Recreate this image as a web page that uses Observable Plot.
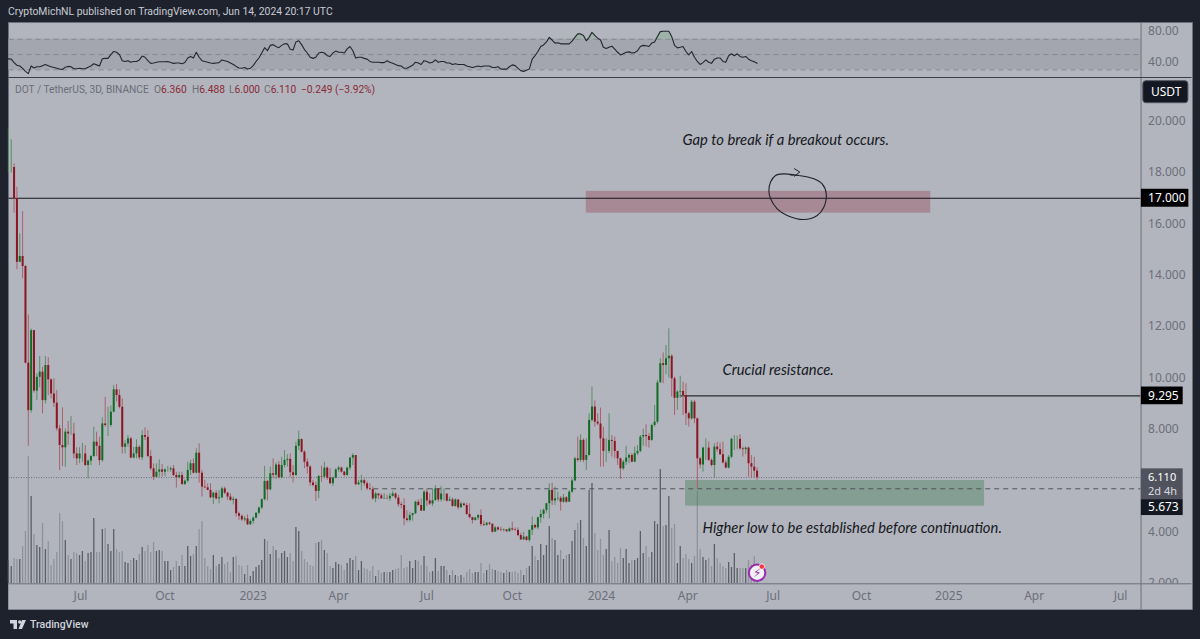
<!DOCTYPE html>
<html><head><meta charset="utf-8">
<script src="https://cdn.jsdelivr.net/npm/d3@7"></script>
<script src="https://cdn.jsdelivr.net/npm/@observablehq/plot@0.6"></script>
<style>
html,body{margin:0;padding:0;background:#1e222d;width:1200px;height:639px;overflow:hidden}
#root{position:relative;width:1200px;height:639px;overflow:hidden}
#panel{position:absolute;left:8px;top:22px;width:1183px;height:586px;background:#b2b5be;border:1px solid #6d707b}
#pub{position:absolute;left:8px;top:5px;font:10.4px Roboto,sans-serif;line-height:14px;color:#c8cbd3;white-space:pre}
#leg{position:absolute;left:15px;top:83px;font:10.2px Roboto,sans-serif;line-height:14px;color:#6a6d78;white-space:pre}
#leg span{position:absolute;top:0}
#leg b{font-weight:400;color:#8b2a35}
#logo{position:absolute;left:10px;top:618px;display:flex;align-items:center;gap:4px;font:500 10.5px Roboto,sans-serif;color:#d1d4dc}
svg{position:absolute;left:0;top:0}
</style></head><body><div id="root">
<div id="panel"></div>
<div id="pub">CryptoMichNL published on TradingView.com, Jun 14, 2024 20:17 UTC</div>
<div id="logo"><svg style="position:static" width="16" height="10" viewBox="0 0 16 10"><path d="M0 0h7v9H3.5V3.5H0z M12 9H8.5L12 0h4z" fill="#d1d4dc"/><circle cx="9.7" cy="2" r="1.7" fill="#d1d4dc"/></svg><span>TradingView</span></div>
</div>
<script>
// --- values ---
const closes=[18.2,18.2,16.98,14.5,14.73,14.34,10.57,8.72,11.84,9.48,10.02,10.22,9.11,10.48,9.92,9.37,9.01,8.01,7.36,7.27,7.88,7.81,7.81,7.03,6.84,7.03,7.03,6.58,6.75,6.93,7.49,7.33,6.77,8.2,8.14,8.14,8.66,9.53,9.31,8.85,7.29,7.42,7.62,6.87,7.03,7.29,6.88,7.75,7.68,6.93,6.45,6.12,6.32,6.41,
6.32,6.41,6.41,6.45,6.19,6.1,6.19,5.84,5.97,6.39,6.65,6.28,7.06,6.28,5.74,5.71,5.61,5.32,5.5,5.28,5.32,5.67,5.5,5.35,
5.22,5.26,4.7,4.6,4.46,4.5,4.27,4.4,4.53,4.72,4.92,5.25,5.96,5.63,6.26,6.2,6.6,6.1,6.58,6.78,6.82,6.3,6.19,7.33,7.59,7.1,6.71,6.52,5.9,5.8,5.57,6.15,6.13,6.48,6.09,5.87,6.09,6.41,6.48,6.32,6.19,6.48,6.87,6.97,5.83,5.9,5.99,5.87,5.67,5.64,5.28,5.47,5.4,5.28,5.29,5.28,5.38,5.47,5.31,5.05,5.02,
4.5,4.44,4.63,4.7,5.15,5.02,4.8,5.54,5.2,5.08,5.21,5.67,5.24,5.47,5.47,5.19,5.24,4.98,5.24,4.93,5.08,5.02,4.67,4.55,4.44,4.53,4.63,4.28,4.25,4.33,4.29,3.98,4.15,4.07,4.05,4.07,4.0,4.11,4.07,4.05,3.85,3.68,3.79,3.66,4.05,4.24,4.15,4.54,4.67,4.83,5.09,5.61,5.2,5.28,5.3,5.15,5.32,5.15,5.54,5.98,
6.84,6.78,7.56,6.78,6.97,8.34,8.86,8.27,8.2,7.62,7.13,7.13,7.56,7.52,7.13,6.84,6.45,6.71,6.87,6.97,6.71,7.04,7.13,7.69,7.75,7.71,7.56,8.14,8.27,9.8,10.55,10.48,10.74,10.84,9.96,9.2,9.44,9.47,9.31,8.6,8.4,9.05,8.4,6.84,6.6,7.26,7.26,6.78,6.58,7.3,7.2,7.0,6.68,6.48,6.9,7.6,7.6,7.6,7.23,7.2,7.26,6.65,6.52,6.36,6.11];
const highs=[19.7,19.28,18.34,17.43,15.61,16.48,14.38,12.45,11.9,11.84,10.15,10.83,10.41,10.83,10.78,9.96,9.96,9.5,8.14,8.83,8.01,8.3,8.49,8.23,7.27,7.27,7.45,7.36,6.8,6.97,8.07,7.88,7.68,8.44,9.24,8.85,8.9,9.7,9.74,9.53,9.18,7.55,7.75,7.68,7.29,7.58,7.36,7.94,8.05,7.94,7.16,6.64,6.64,6.8,
6.62,6.45,6.54,6.52,6.58,6.32,6.32,6.32,6.02,6.71,6.78,6.84,7.23,7.43,6.39,6.0,5.87,5.87,5.54,5.6,5.6,5.74,5.74,5.54,
5.48,5.35,5.28,4.76,4.65,4.6,4.66,4.46,4.57,4.74,4.96,5.28,6.55,6.0,6.52,6.84,6.68,6.74,6.9,7.16,7.0,7.03,6.58,7.49,7.92,7.62,7.16,6.84,6.58,6.0,5.93,6.19,6.55,6.71,6.52,6.45,6.13,6.45,6.55,6.52,6.35,6.52,6.9,7.04,6.95,6.0,6.2,6.06,5.95,5.87,5.74,5.54,5.48,5.48,5.48,5.42,5.48,5.57,5.51,5.41,5.15,
5.28,4.82,4.76,4.72,5.19,5.24,5.28,5.6,5.67,5.48,5.67,5.8,5.58,5.76,5.67,5.45,5.35,5.32,5.28,5.11,5.15,5.11,5.11,5.08,4.56,4.56,4.67,4.85,4.41,4.37,4.37,4.3,4.2,4.2,4.17,4.11,4.07,4.15,4.37,4.15,4.15,3.94,3.98,3.81,4.07,4.57,4.28,4.57,4.85,4.89,5.11,5.87,5.89,5.74,5.54,5.37,5.45,5.37,5.6,6.06,
6.9,7.69,7.78,7.62,7.62,8.6,9.64,9.1,8.6,8.82,8.08,7.62,8.6,7.75,7.69,7.13,6.87,6.78,7.33,7.04,7.04,7.3,7.36,7.75,7.99,8.17,7.82,8.2,8.92,9.9,10.74,10.97,11.26,11.91,10.9,10.03,9.5,10.06,9.83,9.77,8.66,9.12,9.12,8.43,6.9,7.3,7.62,7.49,6.84,7.43,7.49,7.46,7.49,6.78,6.97,7.65,7.75,7.73,7.78,7.3,7.3,7.3,6.97,6.9,6.488];
const lows=[18.0,17.98,16.42,14.21,14.5,13.86,10.54,7.33,8.62,9.4,9.11,9.61,8.59,8.98,9.31,9.18,8.85,7.92,6.38,6.54,6.51,7.36,7.75,6.84,6.58,6.65,6.71,6.54,6.06,6.58,6.9,6.93,6.58,6.71,8.07,7.71,8.07,8.63,9.05,8.79,7.03,7.03,7.29,6.84,6.84,6.84,6.8,6.77,7.55,6.88,6.38,6.0,6.12,6.12,
6.13,6.15,6.32,6.32,6.15,5.7,6.06,5.8,5.8,5.9,6.19,6.25,6.26,5.89,5.35,5.67,5.6,5.28,5.06,5.24,5.09,5.28,5.45,5.22,
5.18,5.05,4.57,4.44,4.4,4.38,4.24,4.24,4.3,4.5,4.66,4.86,5.2,5.2,5.6,6.06,6.03,6.06,6.06,6.48,6.52,6.12,5.9,6.16,7.16,7.07,6.45,6.25,5.77,5.74,5.18,5.28,5.93,6.06,6.0,5.83,5.77,6.06,6.32,6.28,6.13,6.16,6.39,6.58,5.8,5.8,5.6,5.77,5.6,5.6,5.22,5.13,5.25,5.25,5.25,5.25,5.18,5.35,5.25,4.96,4.89,
4.24,4.37,4.37,4.41,4.67,4.98,4.8,4.98,4.98,5.02,4.98,5.19,5.15,5.15,5.2,5.15,5.19,4.96,4.96,4.85,4.93,4.98,4.63,4.5,4.3,4.41,4.44,4.2,4.2,4.2,4.24,3.94,3.98,4.02,4.0,3.98,3.98,3.98,4.02,4.02,3.81,3.66,3.66,3.63,3.59,3.85,4.11,4.07,4.33,4.5,4.72,4.5,5.02,5.02,5.19,4.8,5.11,5.11,5.15,5.5,
5.95,6.71,6.71,6.69,6.39,6.95,8.27,8.08,8.14,6.52,6.52,6.71,7.04,6.91,6.84,6.58,6.04,6.39,6.58,6.65,6.69,6.69,6.97,7.08,7.33,7.3,7.26,7.52,8.08,8.2,9.96,9.77,10.12,9.99,9.25,8.53,8.73,9.2,8.53,8.14,8.08,8.34,8.21,5.67,6.45,6.32,6.78,6.74,6.52,6.09,7.1,6.97,6.65,6.45,6.45,6.84,7.17,7.2,7.17,6.91,7.0,6.13,6.09,6.09,6.0];
const volumes=[23,17,25,24,24,37,52,127,87,49,38,36,60,34,42,18,24,31,70,62,43,28,24,31,30,28,32,22,30,31,65,31,31,54,55,39,32,54,34,31,32,21,20,23,25,23,29,36,32,38,31,41,32,33,32,22,22,13,16,22,17,28,17,37,27,29,37,54,62,25,17,14,28,17,19,26,19,21,
11,26,27,18,17,9,18,7,12,16,18,23,44,42,29,37,33,25,30,32,26,30,22,56,52,32,24,21,18,17,40,41,43,33,30,17,15,21,19,18,13,20,25,23,27,13,22,15,14,12,17,7,13,10,11,11,11,13,14,15,28,15,16,22,15,23,22,18,27,17,11,12,25,12,17,17,13,8,13,8,7,8,6,11,14,10,11,11,20,10,13,19,14,13,12,11,10,13,11,11,12,10,13,8,15,17,
37,27,23,39,28,38,57,45,43,28,33,24,28,29,42,53,60,63,45,37,93,100,50,33,44,28,34,53,22,26,20,35,25,34,20,23,23,25,52,30,37,26,31,62,59,114,57,58,87,55,59,20,37,25,29,24,20,27,92,34,26,23,25,17,39,25,20,17,15,21,16,30,15,15,15,15,23,18,27,10];
const rsiValues=[44.3,44,39.5,36,35,32,28,25,35,32.5,34,34,35.5,37,35.5,34,33,32,31,30.5,33.5,34.5,34,31.5,31.5,32,31.5,31.5,33.5,35,38,36.5,35,44.5,45,45,50,54,53,50,42,41,42,40,41,41,43,48,46.5,42,38.5,39,40,40.5,40.5,40.5,41,39.5,38.5,39,39,38,39.5,45.5,47.5,45.5,53,46.5,42,41,40,39,38.5,39,39.5,43,42,41,39,37,34.5,32.5,32,33,31,32,35.5,41,45.5,52,59,55,62,63,60.5,59,62,64,64,57,56,66.5,68,63,56.5,52,46.5,45,46.5,52,53,52,48.5,47.5,52,54.5,53,53,52,57.5,60.5,55,45.5,46.5,46.5,45,44,41,40,40,40,39.5,39.5,42,40,38.5,37,35.5,
35,32,32,34,36,40,39,37,42,41,39,40,43,40,41,41,39,39,37,38,37,37,37,35,34,33,34,35,34,35,35,35,33,33,34,
31,31,31,34,36.5,35.5,32,29,28,29.5,31,44,48.5,54,60.5,62.5,66.5,72.5,69,65,65.5,64,64,64,64,67.5,72.5,77,77,75,68,72.5,79,75,71.5,69,59.5,58,59.5,61,57,53,49.5,51,53,53.5,52,52.5,55,60.5,62,61.5,60.5,65,66.5,73.5,80,80.5,80.5,80.5,73.5,62,58.7,59.5,60.5,54,49.5,54,46.5,41,37,39.5,43,40,38.5,44,45.5,45.5,41,40,48.5,51,48.5,51,47.5,46.5,47.5,44,42,40.5,38.5];
const firstOpen=18.2;
const priceTicks=[20,18,16,14,12,10,8,4,2];
const rsiTicks=[80,40];
const xTickLabels=["Jul","Oct","2023","Apr","Jul","Oct","2024","Apr","Jul","Oct","2025","Apr","Jul"];
const xTickDates=["2022-07-01","2022-09-28","2022-12-30","2023-03-30","2023-07-01","2023-09-29","2024-01-01","2024-04-01","2024-06-30","2024-10-01","2025-01-01","2025-04-01","2025-07-01"];
const firstCandle="2022-04-16";
const circleDays=[757,741.2,732.4,727.2,725.4,727.2,734.2,744.7,762.3,776.3,783.3,785.9,781.6,772.8,757,748.2];
const circlePrices=[17.89,17.95,17.89,17.63,17.3,16.98,16.59,16.33,16.17,16.33,16.65,17.17,17.56,17.76,17.89,17.91];
const arrowDays=[752.4,758,752.4];
const arrowPrices=[18.15,18.02,17.86];

// --- helpers ---
const origin=Date.UTC(2022,6,1);
const day=n=>new Date(origin+n*864e5);
const start=new Date(firstCandle+"T00:00:00Z");
const candles=closes.map((c,i)=>({
  date:new Date(+start+i*3*864e5),
  open:i?closes[i-1]:firstOpen, close:c, high:highs[i], low:lows[i], vol:volumes[i], rsi:rsiValues[i]
}));
candles.forEach(d=>d.up=d.close>=d.open);
const xScale={type:"utc",domain:[day(-75.35),day(1171.3)],range:[8.5,1191.5],axis:null};
const base={width:1200,height:639,marginLeft:0,marginRight:0,marginTop:0,marginBottom:0,
  style:{background:"transparent",position:"absolute",left:0,top:0,overflow:"visible"}};
const sepDay=day(1117.6), axisTextDay=day(1125);
const AF="Noto Sans, sans-serif", AC="#6c6f7a", NF="Lato, sans-serif";
const pY=y=>2+(582.5-y)/25.65; // price read at a picture height, for annotations

// --- volume layer ---
const volPlot=Plot.plot({...base,x:xScale,y:{domain:[127,0],range:[456,583],axis:null},marks:[
  Plot.ruleX(candles,{filter:d=>!d.up,x:"date",y1:0,y2:"vol",stroke:"#8f929b",strokeWidth:1.3}),
  Plot.ruleX(candles,{filter:d=>d.up,x:"date",y1:0,y2:"vol",stroke:"#5b5e66",strokeWidth:1.3})
]});

// --- RSI layer ---
const rsiPlot=Plot.plot({...base,x:xScale,y:{domain:[90.6,20],range:[23,77],axis:null},marks:[
  Plot.rect([0],{x1:day(-75.35),x2:sepDay,y1:30,y2:70,fill:"#a3a6af"}),
  Plot.ruleY([30,50,70],{x1:day(-75.35),x2:sepDay,stroke:"#85888f",strokeDasharray:"5,4",strokeWidth:1}),
  Plot.areaY(candles,{x:"date",y1:70,y2:d=>Math.max(d.rsi,70),fill:"#7fb08a",fillOpacity:.4}),
  Plot.line(candles,{x:"date",y:"rsi",stroke:"#23262e",strokeWidth:1.1}),
  Plot.ruleX([sepDay],{y1:90.6,y2:20,stroke:"#6d707b"}),
  Plot.ruleY([20],{x1:day(-75.35),x2:day(1171.3),stroke:"#3c3f48",strokeWidth:1.2}),
  Plot.text(rsiTicks,{x:axisTextDay,y:d=>d,text:d=>d3.format(".2f")(d),textAnchor:"start",fill:AC,fontFamily:AF,fontSize:12})
]});

// --- main layer ---
const pT=pY(78), pB=pY(609.3), pAxis=pY(583.3);
const txt=(label,dd,p)=>Plot.text([label],{x:day(dd),y:p,text:d=>d,textAnchor:"start",fill:"#16181d",fontFamily:NF,fontStyle:"italic",fontSize:14.8});
const tag=(p1,p2,fill,right=1162)=>Plot.rect([0],{x1:day(1118),x2:day(right),y1:p1,y2:p2,fill});
const tagText=(label,p,fill="#fff",size=12)=>Plot.text([label],{x:axisTextDay,y:p,text:d=>d,textAnchor:"start",fill,fontFamily:AF,fontSize:size});
const circle=circleDays.map((d,i)=>({d:day(d),p:circlePrices[i]}));
const arrow=arrowDays.map((d,i)=>({d:day(d),p:arrowPrices[i]}));
const mainPlot=Plot.plot({...base,x:xScale,y:{domain:[pT,pB],range:[78,609.3],axis:null},marks:[
  Plot.rect([0],{x1:day(533),x2:day(896),y1:16.42,y2:17.27,fill:"#8b1a2b",fillOpacity:.28}),
  Plot.rect([0],{x1:day(637.6),x2:day(952.7),y1:4.995,y2:5.996,fill:"#3f7d52",fillOpacity:.4}),
  Plot.ruleY([17],{x1:day(-75.35),x2:sepDay,stroke:"#15171c",strokeWidth:1.1}),
  Plot.ruleY([9.295],{x1:day(632),x2:sepDay,stroke:"#2a2c33",strokeWidth:1.2}),
  Plot.ruleY([6.11],{x1:day(-75.35),x2:sepDay,stroke:"#6b6e76",strokeWidth:1,strokeDasharray:"1,1.5"}),
  Plot.ruleY([5.673],{x1:day(309),x2:sepDay,stroke:"#50535b",strokeWidth:1,strokeDasharray:"5,4"}),
  Plot.ruleX(candles,{filter:d=>!d.up,x:"date",y1:"low",y2:"high",stroke:"#a8626d",strokeWidth:1}),
  Plot.ruleX(candles,{filter:d=>d.up,x:"date",y1:"low",y2:"high",stroke:"#5b8d66",strokeWidth:1}),
  Plot.ruleX(candles,{filter:d=>!d.up,x:"date",y1:"open",y2:"close",stroke:"#8c1522",strokeWidth:2}),
  Plot.ruleX(candles,{filter:d=>d.up,x:"date",y1:"open",y2:"close",stroke:"#106b25",strokeWidth:2}),
  Plot.line(circle,{x:"d",y:"p",curve:"catmull-rom",stroke:"#20222a",strokeWidth:1.1}),
  Plot.line(arrow,{x:"d",y:"p",stroke:"#20222a",strokeWidth:1}),
  txt("Gap to break if a breakout occurs.",634.4,pY(140)),
  txt("Crucial resistance.",676.6,pY(369.5)),
  txt("Higher low to be established before continuation.",655.5,pY(528)),
  // axis strips
  Plot.text(priceTicks,{x:axisTextDay,y:d=>d,text:d=>d3.format(".3f")(d),textAnchor:"start",fill:AC,fontFamily:AF,fontSize:12}),
  Plot.rect([0],{x1:day(-75.35),x2:day(1171.3),y1:pAxis,y2:pB,fill:"#b2b5be"}),
  Plot.ruleY([pAxis],{x1:day(-75.35),x2:day(1171.3),stroke:"#6d707b"}),
  Plot.ruleX([sepDay],{y1:pT,y2:pB,stroke:"#6d707b"}),
  Plot.text(xTickLabels.map((t,i)=>({t,d:new Date(xTickDates[i]+"T00:00:00Z")})),{x:"d",y:pY(596),text:"t",
    fill:AC,fontFamily:AF,fontSize:12,fontWeight:d=>/^\d/.test(d.t)?"700":"400"}),
  // tags
  Plot.rect([0],{x1:day(1120),x2:day(1167.5),y1:pY(80.7),y2:pY(102.7),fill:"#131722",rx:3,stroke:"#50535e"}),
  Plot.text(["USDT"],{x:day(1144),y:pY(92),text:d=>d,fill:"#fff",fontFamily:AF,fontSize:12}),
  tag(17.35,16.65,"#000",1168), tagText("17.000",17),
  tag(9.64,8.95,"#000"), tagText("9.295",9.295),
  tag(6.45,5.25,"#50535e"), tagText("6.110",pY(476.5),"#fff",11), tagText("2d 4h",pY(490.5),"#d8dae0",11),
  tag(5.25,4.63,"#131722"), tagText("5.673",4.94),
  // badge
  Plot.dot([0],{x:day(713),y:2.4,r:8.2,fill:"#f2f2f6",stroke:"#9c27b0",strokeWidth:2}),
  Plot.text(["⚡"],{x:day(713),y:2.4,text:d=>d,fill:"#9c27b0",fontFamily:"DejaVu Sans",fontSize:12}),
  Plot.dot([0],{x:day(718),y:2.64,r:2.7,fill:"#f23645",stroke:"#fff",strokeWidth:.7})
]});

const root=document.getElementById("root");
root.appendChild(volPlot);
root.appendChild(rsiPlot);
root.appendChild(mainPlot);
const leg=document.createElement("div");
leg.id="leg";
const legendParts=[["DOT / TetherUS, 3D, BINANCE",0],["O<b>6.360</b>",139],["H<b>6.488</b>",177],["L<b>6.000</b>",214],["C<b>6.110</b>",249],["<b>−0.249 (−3.92%)</b>",286]];
leg.innerHTML=legendParts.map(([t,l])=>`<span style="left:${l}px">${t}</span>`).join("");
root.appendChild(leg);
</script>
</body></html>
